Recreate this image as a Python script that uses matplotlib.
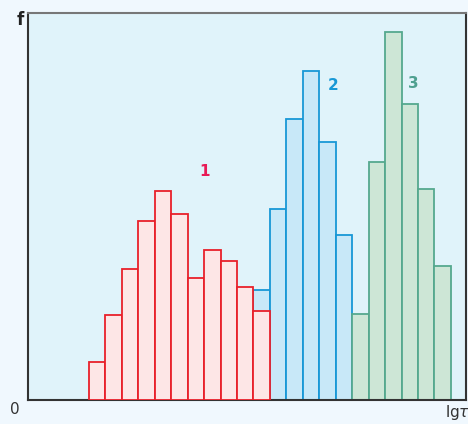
import matplotlib.pyplot as plt

# bin heights (arbitrary units)
red_bins = list(range(0, 11))
red_f = [38, 85, 131, 179, 209, 186, 122, 150, 139, 113, 89]

blue_bins = list(range(10, 16))
blue_f = [110, 191, 281, 329, 258, 165]

green_bins = list(range(16, 22))
green_f = [86, 238, 368, 296, 211, 134]

fig = plt.figure(figsize=(4.68, 4.24), dpi=100)
fig.patch.set_facecolor("#f0f8fe")
ax = fig.add_axes([28 / 468, 24 / 424, 438 / 468, 387 / 424])
ax.set_facecolor("#e0f3fa")

ax.bar(blue_bins, blue_f, width=1, align="edge", color="#c8e8f8",
       edgecolor="#1898d6", linewidth=1.3, zorder=2)
ax.bar(green_bins, green_f, width=1, align="edge", color="#cde6d6",
       edgecolor="#55a88e", linewidth=1.3, zorder=2)
ax.bar(red_bins, red_f, width=1, align="edge", color="#fde6e6",
       edgecolor="#e8202a", linewidth=1.3, zorder=3)

ax.set_xlim(-3.71, 22.92)
ax.set_ylim(0, 387)
ax.set_xticks([])
ax.set_yticks([])

for side in ["left", "bottom", "right"]:
    ax.spines[side].set_color("#333333")
    ax.spines[side].set_linewidth(1.5)
ax.spines["top"].set_color("#777777")
ax.spines["top"].set_linewidth(1.5)

ax.text(7.0, 228, "1", color="#e81a55", fontsize=11, fontweight="bold",
        ha="center", va="center")
ax.text(14.85, 314, "2", color="#1898d6", fontsize=11, fontweight="bold",
        ha="center", va="center")
ax.text(19.7, 316, "3", color="#4fa090", fontsize=11, fontweight="bold",
        ha="center", va="center")

fig.text(20 / 468, 1 - 20 / 424, "f", fontsize=12, color="#222222",
         ha="center", va="center", fontweight="bold")
fig.text(15 / 468, 1 - 410 / 424, "0", fontsize=11, color="#333333",
         ha="center", va="center")
fig.text(445 / 468, 1 - 412 / 424, r"lg$\tau_F$", fontsize=11, color="#333333",
         ha="left", va="center")

fig.savefig("out.png", dpi=100, facecolor=fig.get_facecolor())
